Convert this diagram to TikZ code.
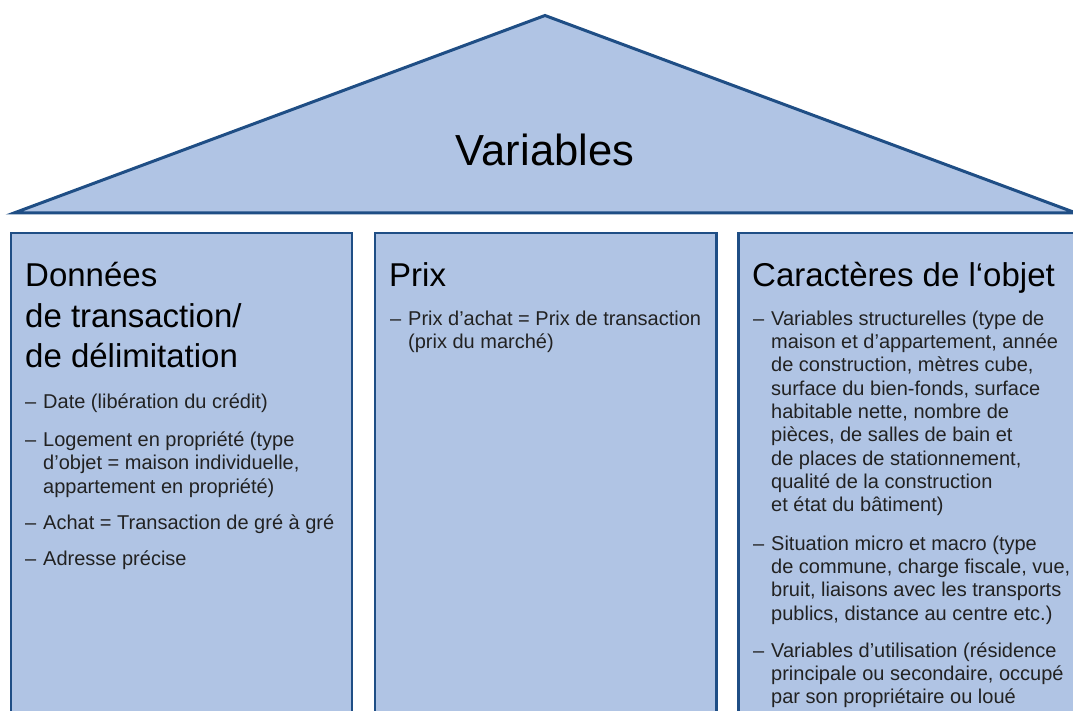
\documentclass[tikz,border=0pt]{standalone}
\usepackage{fontspec}
\setmainfont{Liberation Sans}
\definecolor{boxfill}{RGB}{176,196,228}
\definecolor{boxline}{RGB}{31,78,133}
\definecolor{bodygray}{RGB}{34,34,34}
\newcommand\dashline[4]{%
  \node[bodytxt] (#1-d) at (#2,#3) {–};
  \node[bodytxt] (#1) at (#2+18,#3) {#4};}
\newcommand\contline[4]{%
  \node[bodytxt] (#1) at (#2+18,#3) {#4};}
\begin{document}
\begin{tikzpicture}[x=1pt,y=-1pt,
  panel/.style={draw=boxline,fill=boxfill,line width=2.2pt},
  roofstyle/.style={draw=boxline,fill=boxfill,line width=3pt,line join=miter},
  bodytxt/.style={inner sep=0pt,anchor=base west,text=bodygray,font=\fontsize{20}{23}\selectfont},
  titletxt/.style={inner sep=0pt,anchor=base west,text=black,font=\fontsize{33}{40}\selectfont},
  rooftxt/.style={inner sep=0pt,anchor=base,text=black,font=\fontsize{43.5}{50}\selectfont}]
\useasboundingbox (0,0) rectangle (1073,711);
\fill[white] (0,0) rectangle (1073,711);
\clip (0,0) rectangle (1073,711);
% roof
\draw[roofstyle] (14,213) -- (545,15.5) -- (1076,213) -- cycle;
\node[rooftxt] (roof) at (545,166) {Variables};
% panels
\draw[panel] (11,233) rectangle (352,740);
\draw[panel] (375,233) rectangle (716.5,740);
\draw[panel] (738.5,233) rectangle (1100,740);
% left panel
\node[titletxt] (t1a) at (25,287) {Données};
\node[titletxt] (t1b) at (25,327) {de transaction/};
\node[titletxt] (t1c) at (25,367) {de délimitation};
\dashline{l1}{25}{408}{Date (libération du crédit)}
\dashline{l2}{25}{446.5}{Logement en propriété (type}
\contline{l2b}{25}{469.8}{d’objet = maison individuelle,}
\contline{l2c}{25}{493.1}{appartement en propriété)}
\dashline{l3}{25}{529}{Achat = Transaction de gré à gré}
\dashline{l4}{25}{565}{Adresse précise}
% middle panel
\node[titletxt] (t2) at (389,287) {Prix};
\dashline{m1}{390}{325}{Prix d’achat = Prix de transaction}
\contline{m1b}{390}{348.3}{(prix du marché)}
% right panel
\node[titletxt] (t3) at (752,287) {Caractères de l‘objet};
\dashline{r1}{753}{325}{Variables structurelles (type de}
\contline{r1b}{753}{348.3}{maison et d’appartement, année}
\contline{r1c}{753}{371.7}{de construction, mètres cube,}
\contline{r1d}{753}{395}{surface du bien-fonds, surface}
\contline{r1e}{753}{418.3}{habitable nette, nombre de}
\contline{r1f}{753}{441.7}{pièces, de salles de bain et}
\contline{r1g}{753}{465}{de places de stationnement,}
\contline{r1h}{753}{488.3}{qualité de la construction}
\contline{r1i}{753}{511.7}{et état du bâtiment)}
\dashline{r2}{753}{550}{Situation micro et macro (type}
\contline{r2b}{753}{573.3}{de commune, charge fiscale, vue,}
\contline{r2c}{753}{596.7}{bruit, liaisons avec les transports}
\contline{r2d}{753}{620}{publics, distance au centre etc.)}
\dashline{r3}{753}{657}{Variables d’utilisation (résidence}
\contline{r3b}{753}{680}{principale ou secondaire, occupé}
\contline{r3c}{753}{703.3}{par son propriétaire ou loué}
\end{tikzpicture}
\end{document}
